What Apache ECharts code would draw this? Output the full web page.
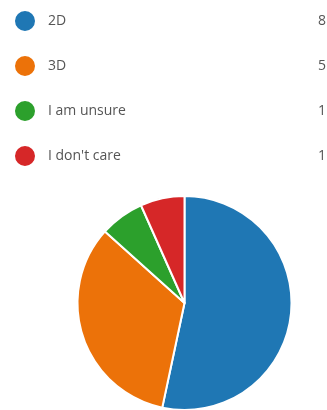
<!DOCTYPE html>
<html>
<head>
<meta charset="utf-8">
<style>
  html, body { margin: 0; padding: 0; background: #ffffff; }
  #chart { width: 327px; height: 410px; }
</style>
<script src="https://cdn.jsdelivr.net/npm/echarts@6/dist/echarts.min.js"></script>
</head>
<body>
<div id="chart"></div>
<script>
// Survey answers and their counts
const categories = ['2D', '3D', 'I am unsure', "I don't care"];
const counts = [8, 5, 1, 1];
const palette = ['#1f77b4', '#ec7209', '#2ca02c', '#d62728'];

const chart = echarts.init(document.getElementById('chart'), null, { renderer: 'canvas' });

const pieData = categories.map((name, i) => ({
  name: name,
  value: counts[i],
  itemStyle: { color: palette[i] }
}));

const font = 'Open Sans, Noto Sans, sans-serif';

chart.setOption({
  animation: false,
  backgroundColor: '#ffffff',
  legend: {
    orient: 'vertical',
    left: 13,
    top: 9,
    padding: 0,
    icon: 'circle',
    itemWidth: 22,
    itemHeight: 22,
    itemGap: 21,
    selectedMode: false,
    data: categories,
    // name on the left, count right-aligned at the far edge
    formatter: function (name) {
      const idx = categories.indexOf(name);
      return '{n|' + name + '}{v|' + counts[idx] + '}';
    },
    textStyle: {
      fontFamily: font,
      fontSize: 14,
      lineHeight: 22,
      color: '#555555',
      rich: {
        n: { width: 260, height: 22, lineHeight: 22, padding: [0, 0, 0, 7], fontSize: 14, color: '#555555', fontFamily: font },
        v: { width: 18, height: 22, lineHeight: 22, align: 'right', fontSize: 14, color: '#555555', fontFamily: font }
      }
    }
  },
  series: [{
    type: 'pie',
    center: [184.5, 303],
    radius: 107,
    startAngle: 90,
    clockwise: true,
    label: { show: false },
    labelLine: { show: false },
    emphasis: { disabled: true },
    itemStyle: { borderColor: '#ffffff', borderWidth: 2 },
    data: pieData
  }]
});
</script>
</body>
</html>
